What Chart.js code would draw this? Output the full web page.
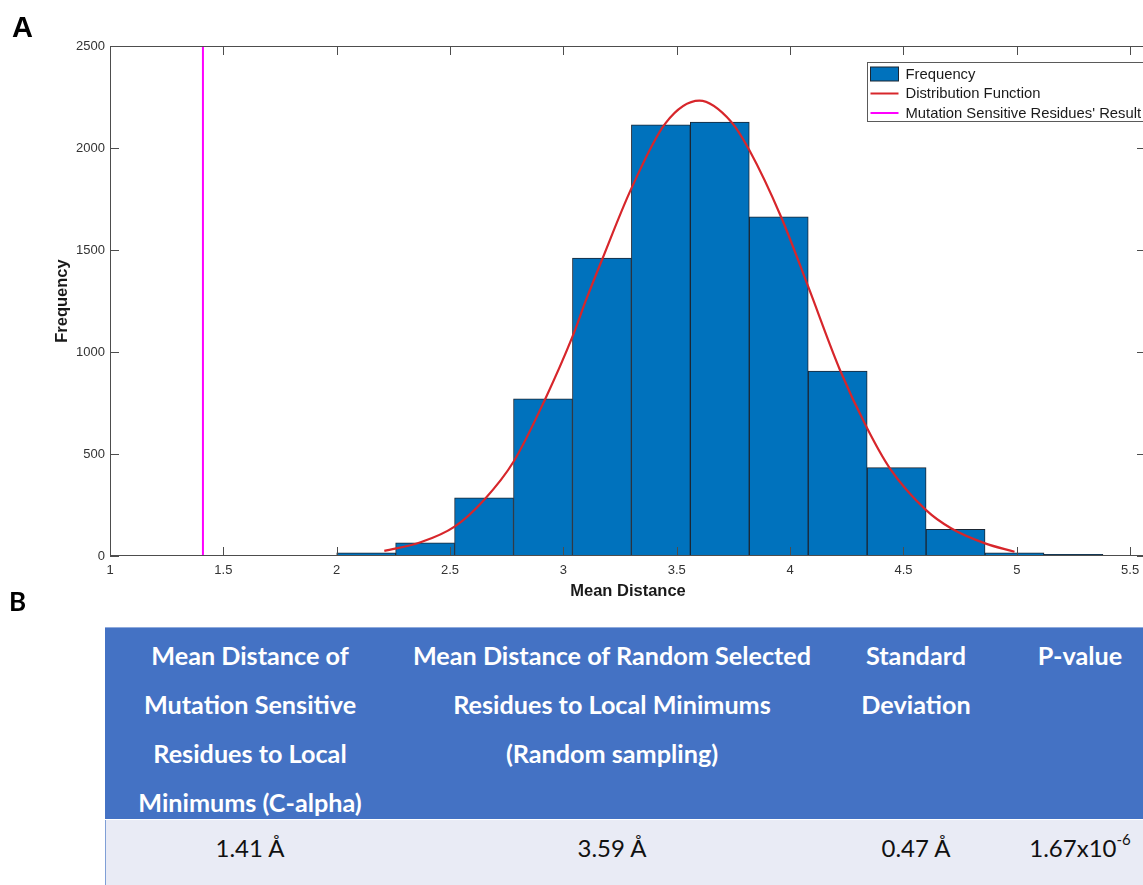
<!DOCTYPE html>
<html>
<head>
<meta charset="utf-8">
<script src="https://cdn.jsdelivr.net/npm/chart.js@4.4.1/dist/chart.umd.min.js"></script>
<style>
  html, body { margin: 0; padding: 0; background: #fff; overflow: hidden; width: 1143px; height: 885px; }
  #wrap { position: relative; width: 1143px; height: 885px; overflow: hidden; }
  #chartBox { position: absolute; left: 0; top: 0; width: 1160px; height: 610px; }
  .panel { position: absolute; font-weight: bold; color: #000; }
  #panelA { left: 12px; top: 13px; font: bold 29px/29px "Liberation Sans", Arial, sans-serif; }
  #panelB { left: 9px; top: 588px; font: bold 26px/26px Lato, sans-serif; }
  #tbl { position: absolute; left: 105px; top: 627px; width: 1052px; height: 258px; }
  .hd { position: absolute; top: 0; height: 192px; background: #4472C4; color: #fff;
        font: bold 25.2px/49px Lato, sans-serif; text-align: center; padding-top: 4px; box-sizing: border-box; overflow: visible; white-space: nowrap; }
  .cell { position: absolute; top: 193px; height: 66px; background: #E9EBF5; color: #111;
          font: 24px/56px Lato, sans-serif; text-align: center; white-space: nowrap; }
  #tbl .topline { position: absolute; left: 0; top: 0; width: 100%; height: 1px; background: #8FAADC; z-index: 2; }
  #tbl .leftline { position: absolute; left: 0; top: 193px; width: 1px; height: 66px; background: #7F9FD6; z-index: 2; }
  sup { font-size: 15px; line-height: 0; position: relative; top: -3px; }
</style>
</head>
<body>
<div id="wrap">
  <div id="chartBox"><canvas id="histChart" width="1160" height="610"></canvas></div>
  <div class="panel" id="panelA">A</div>
  <div class="panel" id="panelB">B</div>
  <div id="tbl"></div>
</div>
<script>
// histogram bins (centres, width 0.26) and counts
const binCenters = [2.13, 2.39, 2.65, 2.91, 3.17, 3.43, 3.69, 3.95, 4.21, 4.47, 4.73, 4.99, 5.25];
const binCounts = [15, 65, 285, 770, 1461, 2113, 2127, 1662, 907, 433, 131, 16, 8];

// fitted distribution curve
const curveX = [2.21, 2.37, 2.52, 2.65, 2.78, 2.92, 3.04, 3.10, 3.17, 3.30, 3.45, 3.60, 3.74, 3.82, 3.96, 4.08, 4.22, 4.34, 4.44, 4.60, 4.71, 4.86, 4.99];
const curveY = [25, 67, 144, 275, 462, 770, 1075, 1255, 1451, 1802, 2121, 2232, 2129, 1990, 1663, 1320, 912, 626, 430, 225, 136, 62, 21];

// mean distance of the mutation sensitive residues
const sampleResult = 1.41;

const xTicks = [1, 1.5, 2, 2.5, 3, 3.5, 4, 4.5, 5, 5.5];
const yTicks = [0, 500, 1000, 1500, 2000, 2500];

const seriesNames = ['Frequency', 'Distribution Function', "Mutation Sensitive Residues' Result"];

// table B
const tableHeaders = [
  ['Mean Distance of', 'Mutation Sensitive', 'Residues to Local', 'Minimums (C-alpha)'],
  ['Mean Distance of Random Selected', 'Residues to Local Minimums', '(Random sampling)'],
  ['Standard', 'Deviation'],
  ['P-value']
];
const tableValues = ['1.41 Å', '3.59 Å', '0.47 Å', '1.67x10<sup>-6</sup>'];
const tableColWidths = [290, 434, 174, 154];

function buildTable() {
  const tbl = document.getElementById('tbl');
  let left = 0;
  tableHeaders.forEach((lines, i) => {
    const hd = document.createElement('div');
    hd.className = 'hd';
    hd.style.left = left + 'px';
    hd.style.width = tableColWidths[i] + 'px';
    hd.innerHTML = lines.join('<br>');
    tbl.appendChild(hd);
    const c = document.createElement('div');
    c.className = 'cell';
    c.style.left = left + 'px';
    c.style.width = tableColWidths[i] + 'px';
    c.innerHTML = tableValues[i];
    tbl.appendChild(c);
    left += tableColWidths[i];
  });
  const t = document.createElement('div'); t.className = 'topline'; tbl.appendChild(t);
  const l = document.createElement('div'); l.className = 'leftline'; tbl.appendChild(l);
}
buildTable();

const axisFont = { family: '"Liberation Sans", Arial, sans-serif', size: 13 };
const axisColor = '#4d4d4d';

// MATLAB style box with inward ticks
const boxPlugin = {
  id: 'matlabBox',
  afterDatasetsDraw(chart) {
    const { ctx, chartArea: a, scales } = chart;
    const tick = 9;
    ctx.save();
    ctx.strokeStyle = axisColor;
    ctx.lineWidth = 1;
    ctx.strokeRect(a.left + 0.5, a.top + 0.5, a.right - a.left - 1, a.bottom - a.top - 1);
    ctx.beginPath();
    scales.x.ticks.forEach(t => {
      const px = Math.round(scales.x.getPixelForValue(t.value)) + 0.5;
      ctx.moveTo(px, a.bottom); ctx.lineTo(px, a.bottom - tick);
      ctx.moveTo(px, a.top); ctx.lineTo(px, a.top + tick);
    });
    scales.y.ticks.forEach(t => {
      const py = Math.round(scales.y.getPixelForValue(t.value)) + 0.5;
      ctx.moveTo(a.left, py); ctx.lineTo(a.left + tick, py);
      ctx.moveTo(a.right, py); ctx.lineTo(a.right - tick, py);
    });
    ctx.stroke();
    ctx.restore();
  }
};

// boxed legend inside the axes, top right
const legendPlugin = {
  id: 'boxLegend',
  afterDraw(chart) {
    const { ctx, chartArea: a } = chart;
    const x = a.right - 278.5, y = a.top + 16.5, w = 292, h = 59, row = 19.5;
    ctx.save();
    ctx.fillStyle = '#fff';
    ctx.fillRect(x, y, w, h);
    ctx.strokeStyle = '#5a5a5a';
    ctx.lineWidth = 1;
    ctx.strokeRect(x, y, w, h);
    ctx.font = '14.8px "Liberation Sans", Arial, sans-serif';
    ctx.textBaseline = 'middle';
    chart.data.datasets.forEach((ds, i) => {
      const cy = y + 11.5 + i * row;
      if (ds.type === 'bar') {
        ctx.fillStyle = ds.backgroundColor;
        ctx.fillRect(x + 3, cy - 7, 28, 14);
        ctx.strokeStyle = '#1b2633';
        ctx.strokeRect(x + 3, cy - 7, 28, 14);
      } else {
        ctx.strokeStyle = ds.borderColor;
        ctx.lineWidth = 2;
        ctx.beginPath();
        ctx.moveTo(x + 3, cy); ctx.lineTo(x + 31, cy);
        ctx.stroke();
        ctx.lineWidth = 1;
      }
      ctx.fillStyle = '#1a1a1a';
      ctx.fillText(ds.label, x + 38, cy + 0.5);
    });
    ctx.restore();
  }
};

const ctx = document.getElementById('histChart').getContext('2d');
new Chart(ctx, {
  data: {
    datasets: [
      {
        type: 'bar',
        label: seriesNames[0],
        data: binCenters.map((c, i) => ({ x: c, y: binCounts[i] })),
        backgroundColor: '#0072BD',
        borderColor: '#1b2633',
        borderWidth: 1,
        barPercentage: 1,
        categoryPercentage: 1,
        order: 3
      },
      {
        type: 'line',
        label: seriesNames[1],
        data: curveX.map((v, i) => ({ x: v, y: curveY[i] })),
        borderColor: '#D7262B',
        borderWidth: 2.2,
        pointRadius: 0,
        fill: false,
        cubicInterpolationMode: 'monotone',
        order: 1
      },
      {
        type: 'line',
        label: seriesNames[2],
        data: [{ x: sampleResult, y: yTicks[0] }, { x: sampleResult, y: yTicks[yTicks.length - 1] }],
        borderColor: '#FF00FF',
        borderWidth: 2,
        pointRadius: 0,
        fill: false,
        order: 2
      }
    ]
  },
  options: {
    responsive: false,
    animation: false,
    events: [],
    layout: { padding: { top: 46, right: 14, left: 0, bottom: 0 } },
    plugins: {
      legend: { display: false },
      tooltip: { enabled: false }
    },
    scales: {
      x: {
        type: 'linear',
        min: 1,
        max: 5.57,
        offset: false,
        grid: { display: false, drawTicks: false },
        border: { display: false },
        afterFit: s => { s.height = 54; },
        afterBuildTicks: s => { s.ticks = xTicks.map(v => ({ value: v })); },
        ticks: {
          font: axisFont,
          color: '#333',
          padding: 7,
          maxRotation: 0,
          autoSkip: false,
          callback: v => String(v)
        },
        title: {
          display: true,
          text: 'Mean Distance',
          color: '#1a1a1a',
          font: { family: '"Liberation Sans", Arial, sans-serif', size: 16.5, weight: 'bold' },
          padding: { top: 0, bottom: 9 }
        }
      },
      y: {
        type: 'linear',
        min: 0,
        max: 2500,
        grid: { display: false, drawTicks: false },
        border: { display: false },
        afterFit: s => { s.width = 110; },
        afterBuildTicks: s => { s.ticks = yTicks.map(v => ({ value: v })); },
        ticks: {
          font: axisFont,
          color: '#333',
          padding: 5,
          callback: v => String(v)
        },
        title: {
          display: true,
          text: 'Frequency',
          color: '#1a1a1a',
          font: { family: '"Liberation Sans", Arial, sans-serif', size: 16.5, weight: 'bold' },
          padding: { top: 53, bottom: 0 }
        }
      }
    }
  },
  plugins: [boxPlugin, legendPlugin]
});
</script>
</body>
</html>
